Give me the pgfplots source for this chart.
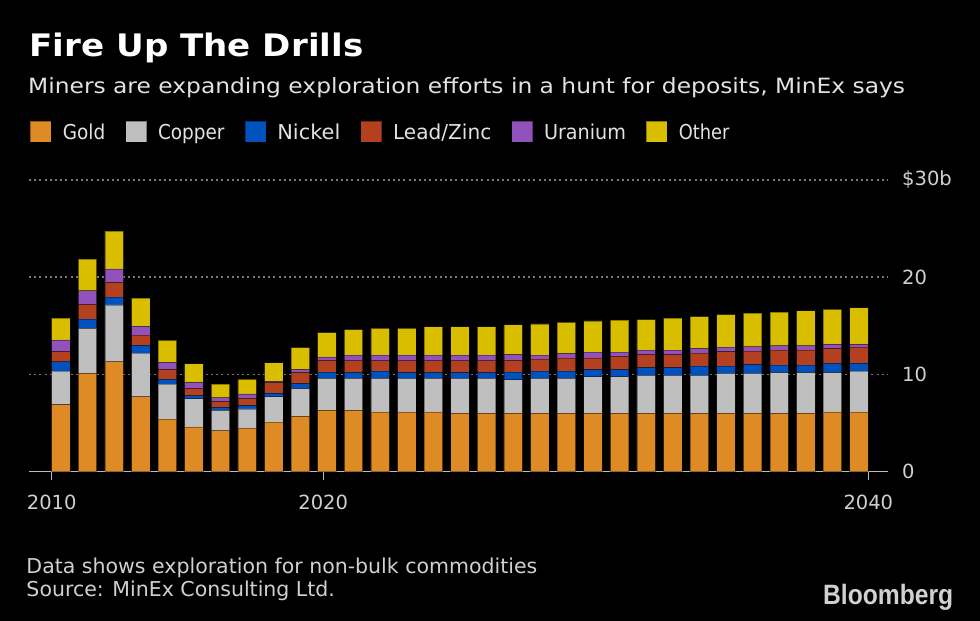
\documentclass[border=0pt]{standalone}
\usepackage{pgfplots}
\pgfplotsset{compat=1.18}
\usepackage{pgfplotstable}
\usepackage{fontspec}
\setmainfont{DejaVu Sans}
\newfontfamily\bbfont{Liberation Sans}
\definecolor{cgold}{HTML}{DE8A25}
\definecolor{ccopper}{HTML}{BFBFBF}
\definecolor{cnickel}{HTML}{0052BE}
\definecolor{clead}{HTML}{B3401E}
\definecolor{curan}{HTML}{9152BC}
\definecolor{cother}{HTML}{D9BE00}
\definecolor{ctext}{HTML}{E2E2E2}
\definecolor{clab}{HTML}{D0D0D0}
\definecolor{cgrid}{HTML}{7A7A7A}
\definecolor{caxis}{HTML}{BDBDBD}
\pgfplotstableread{
i gold copper nickel lead uranium other
0 6.9 3.45 0.95 1.05 1.2 2.25
1 10.1 4.65 0.95 1.5 1.4 3.25
2 11.3 5.85 0.8 1.5 1.4 3.9
3 7.7 4.5 0.8 1.05 0.9 2.9
4 5.4 3.6 0.5 1.0 0.75 2.25
5 4.6 2.9 0.3 0.75 0.6 1.95
6 4.2 2.1 0.3 0.6 0.4 1.4
7 4.5 1.95 0.35 0.75 0.45 1.5
8 5.1 2.6 0.35 1.1 0.15 1.9
9 5.7 2.85 0.5 1.15 0.3 2.25
10 6.3 3.3 0.65 1.2 0.35 2.5
11 6.3 3.3 0.6 1.2 0.6 2.6
12 6.15 3.45 0.75 1.05 0.6 2.75
13 6.15 3.45 0.6 1.2 0.6 2.75
14 6.15 3.45 0.6 1.2 0.6 2.9
15 6.0 3.6 0.6 1.2 0.6 2.9
16 6.0 3.6 0.6 1.2 0.6 2.9
17 6.0 3.45 0.8 1.2 0.6 3.05
18 6.0 3.6 0.75 1.25 0.4 3.2
19 6.0 3.6 0.75 1.35 0.45 3.2
20 6.0 3.75 0.75 1.2 0.6 3.2
21 6.0 3.75 0.75 1.35 0.45 3.3
22 6.0 3.9 0.8 1.35 0.45 3.15
23 6.0 3.9 0.8 1.35 0.45 3.3
24 6.0 3.9 0.95 1.35 0.45 3.3
25 6.0 4.1 0.75 1.5 0.45 3.35
26 6.0 4.1 0.9 1.4 0.45 3.45
27 6.0 4.2 0.75 1.55 0.45 3.45
28 6.0 4.2 0.75 1.55 0.45 3.6
29 6.15 4.05 0.95 1.5 0.45 3.6
30 6.15 4.2 0.8 1.65 0.3 3.75
}\data
\pgfplotsset{swatch/.style={legend image code/.code={\fill[##1] (0pt,-8.2pt) rectangle (21pt,12.5pt);}}}
\newcommand{\lgd}[2]{\scalebox{#1}[1]{#2}}
\begin{document}
\begin{tikzpicture}
\fill[black] (0,0) rectangle (980pt,621pt);
\begin{axis}[
  at={(29pt,149.3pt)}, anchor=south west,
  scale only axis, width=859pt, height=291.7pt,
  xmin=-1.199, xmax=31.09, ymin=0, ymax=30,
  ybar stacked, bar width=18.4pt,
  axis x line*=bottom,
  x axis line style={-, draw=caxis, line width=1.5pt},
  y axis line style={draw=none},
  tick align=outside, major tick length=8pt,
  xtick={-0.346,9.86,30.35}, xticklabels={2010,2020,2040},
  xtick style={draw=caxis, line width=1.2pt},
  ytick={0,10,20,30}, yticklabels={0,10,20,\$30b},
  ytick pos=right, yticklabel pos=right,
  ytick style={draw=none},
  ymajorgrids, major grid style={draw=cgrid, line width=1.6pt, dash pattern=on 2pt off 3.2pt},
  /pgf/number format/assume math mode=true,
  tick label style={font=\fontsize{19.5}{22}\selectfont, text=clab},
  yticklabel style={anchor=west, inner sep=0pt, xshift=6pt},
  xticklabel style={anchor=north, inner sep=0pt, yshift=-15pt},
  every axis plot/.append style={draw=black, draw opacity=0.35, line width=0.8pt},
  legend style={at={(axis description cs:0.00116,1.2023)}, anchor=north west,
    draw=none, fill=none, inner sep=0pt, outer sep=0pt,
    legend columns=6, text=ctext, font=\fontsize{20.5}{24}\selectfont,
    nodes={inner sep=0pt, text height=15pt, text depth=4pt},
    /tikz/every odd column/.append style={column sep=11pt},
    /tikz/every even column/.append style={column sep=20pt}},
  legend cell align=left,
]
\addplot[fill=cgold, swatch] table[x=i,y=gold]{\data};
\addlegendentry{\lgd{0.9}{Gold}}
\addplot[fill=ccopper, swatch] table[x=i,y=copper]{\data};
\addlegendentry{\lgd{0.9}{Copper}}
\addplot[fill=cnickel, swatch] table[x=i,y=nickel]{\data};
\addlegendentry{\lgd{1.02}{Nickel}}
\addplot[fill=clead, swatch] table[x=i,y=lead]{\data};
\addlegendentry{\lgd{0.98}{Lead/Zinc}}
\addplot[fill=curan, swatch] table[x=i,y=uranium]{\data};
\addlegendentry{\lgd{0.935}{Uranium}}
\addplot[fill=cother, swatch] table[x=i,y=other]{\data};
\addlegendentry{\lgd{0.87}{Other}}
\end{axis}
\node[anchor=base west, inner sep=0pt, text=white, font=\fontsize{31}{36}\selectfont\bfseries] at (29.5pt,564.3pt) {\scalebox{1.10}[1]{Fire Up The Drills}};
\node[anchor=base west, inner sep=0pt, text=ctext, font=\fontsize{21}{24}\selectfont] at (28pt,527.7pt) {\scalebox{1.112}[1]{Miners are expanding exploration efforts in a hunt for deposits, MinEx says}};
\node[anchor=base west, inner sep=0pt, text=clab, font=\fontsize{20.5}{24}\selectfont] at (26.3pt,47.7pt) {Data shows exploration for non-bulk commodities};
\node[anchor=base west, inner sep=0pt, text=clab, font=\fontsize{20.5}{24}\selectfont] at (26.3pt,24pt) {Source: MinEx Consulting Ltd.};
\node[anchor=base west, inner sep=0pt, text=clab] at (823pt,16pt) {\scalebox{0.88}[1]{\bbfont\bfseries\fontsize{28}{30}\selectfont Bloomberg}};
\end{tikzpicture}
\end{document}
